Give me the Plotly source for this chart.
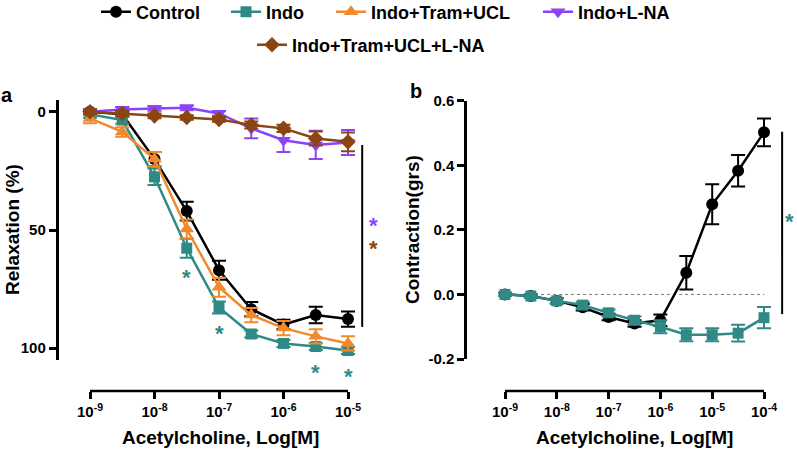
import plotly.graph_objects as go

W, H = 797, 453

# ---- panel a : relaxation (%) vs log[ACh], mean and sem
log_ach_a = [-9, -8.5, -8, -7.5, -7, -6.5, -6, -5.5, -5]
control_a = [0, 1, 20, 42, 67, 83.5, 90, 86, 87.7]
control_a_err = [1, 1, 3, 4, 4, 3, 2, 3.5, 3.2]
indo_a = [1, 3.5, 27.5, 57.7, 82.8, 94, 98, 99.3, 101]
indo_a_err = [1.5, 1.5, 3.5, 4, 2.5, 1.5, 1.5, 1.5, 1.5]
tram_a = [2.8, 8.5, 20, 49.6, 74.2, 86, 91.5, 95, 98]
tram_a_err = [2, 2, 3, 4, 4, 3, 3, 3, 3]
lna_a = [0, -1, -1.4, -1.7, 0.7, 7, 12, 14, 13]
lna_a_err = [1, 1, 1, 1, 1, 4.2, 5, 6, 5.3]
tram_lna_a = [0, 0.7, 1.7, 2.4, 3.2, 5.6, 7, 11.3, 12.7]
tram_lna_a_err = [1, 1, 1, 1, 1, 1.5, 1.5, 3, 4]

# ---- panel b : contraction (grs) vs log[ACh]
log_ach_b = [-9, -8.5, -8, -7.5, -7, -6.5, -6, -5.5, -5, -4.5, -4]
control_b = [0, -0.005, -0.02, -0.04, -0.07, -0.09, -0.08, 0.067, 0.279, 0.383, 0.502]
control_b_err = [0.005, 0.005, 0.008, 0.01, 0.01, 0.01, 0.018, 0.052, 0.062, 0.049, 0.043]
indo_b = [0, -0.005, -0.02, -0.033, -0.057, -0.08, -0.1, -0.125, -0.125, -0.12, -0.072]
indo_b_err = [0.005, 0.005, 0.008, 0.01, 0.01, 0.012, 0.02, 0.02, 0.02, 0.026, 0.033]

# tick labels
xtick_a = [-9, -8, -7, -6, -5]
xtick_b = [-9, -8, -7, -6, -5, -4]
ytick_a = [0, 50, 100]
ytick_b = [-0.2, 0.0, 0.2, 0.4, 0.6]
ytext_b = ["-0.2", "0.0", "0.2", "0.4", "0.6"]

# significance stars (x, y)
stars_indo_a = [(-7.5, 68), (-7, 91.6), (-5.5, 108), (-5, 110)]

BLACK = "#000000"
TEAL = "#2f8a86"
ORANGE = "#f08a2c"
PURPLE = "#8a43f7"
BROWN = "#8b4513"
FONT = "Liberation Sans, Arial, sans-serif"


def px(x):
  return x / W


def py(y):
  return 1 - y / H


def sup(v):
  return "10<sup>{}</sup>".format(v)


fig = go.Figure()

# name, values, sem, colour, symbol, size, legend id, legend position (px)
series_a = [
  ("Control", control_a, control_a_err, BLACK, "circle", 12, "legend", (96, 12)),
  ("Indo", indo_a, indo_a_err, TEAL, "square", 11, "legend2", (226, 12)),
  ("Indo+Tram+UCL", tram_a, tram_a_err, ORANGE, "triangle-up", 13, "legend3", (331, 12)),
  ("Indo+L-NA", lna_a, lna_a_err, PURPLE, "triangle-down", 13, "legend4", (538, 12)),
  ("Indo+Tram+UCL+L-NA", tram_lna_a, tram_lna_a_err, BROWN, "diamond", 12, "legend5", (252, 45)),
]
legend_font = dict(family=FONT, size=18, color=BLACK, weight="bold")
legends = {}
for name, y, err, color, symbol, size, leg, pos in series_a:
  fig.add_trace(go.Scatter(
      x=log_ach_a, y=y, name=name, mode="lines+markers",
      line=dict(color=color, width=2.5),
      marker=dict(color=color, symbol=symbol, size=size),
      error_y=dict(type="data", array=err, color=color, thickness=2, width=7),
      legend=leg, cliponaxis=False, xaxis="x", yaxis="y"))
  legends[leg] = dict(orientation="h", x=px(pos[0]), xanchor="left", y=py(pos[1]),
                      yanchor="middle", font=legend_font, bgcolor="rgba(0,0,0,0)")

series_b = [
  ("Control", control_b, control_b_err, BLACK, "circle", 12),
  ("Indo", indo_b, indo_b_err, TEAL, "square", 11),
]
for name, y, err, color, symbol, size in series_b:
  fig.add_trace(go.Scatter(
      x=log_ach_b, y=y, name=name, mode="lines+markers", showlegend=False,
      line=dict(color=color, width=2.5),
      marker=dict(color=color, symbol=symbol, size=size),
      error_y=dict(type="data", array=err, color=color, thickness=2, width=7),
      cliponaxis=False, xaxis="x2", yaxis="y2"))

# axis geometry (pixels of the 797x453 page)
dec_a = 64.5
dec_b = 51.8
x_axis_y = 391
ya_top, ya_bottom = 100, 360
ya_range = [105, -5]
ya_scale = (ya_bottom - ya_top) / (ya_range[0] - ya_range[1])

tickfont = dict(family=FONT, size=15, color=BLACK, weight="bold")
common_x = dict(showgrid=False, zeroline=False, showline=False, ticks="outside",
                ticklen=7, tickwidth=2.5, tickcolor=BLACK, tickfont=tickfont,
                anchor="free", position=py(x_axis_y), automargin=False)
common_y = dict(showgrid=False, zeroline=False, showline=True, linewidth=2.5,
                linecolor=BLACK, ticks="outside", ticklen=7, tickwidth=2.5,
                tickcolor=BLACK, tickfont=tickfont, automargin=False)

fig.update_layout(
    xaxis=dict(common_x, domain=[px(58.5), px(392)],
               range=[-9 - (90 - 58.5) / dec_a, -5 + (392 - 348) / dec_a],
               tickvals=xtick_a, ticktext=[sup(v) for v in xtick_a]),
    yaxis=dict(common_y, domain=[py(ya_bottom), py(ya_top)], range=ya_range,
               tickvals=ytick_a, anchor="x"),
    xaxis2=dict(common_x, domain=[px(467), 1.0],
                range=[-9 - (505 - 467) / dec_b, -4 + (797 - 764) / dec_b],
                tickvals=xtick_b, ticktext=[sup(v) for v in xtick_b]),
    yaxis2=dict(common_y, domain=[py(359), py(100.7)], range=[-0.2, 0.6],
                tickvals=ytick_b, ticktext=ytext_b, anchor="x2"),
)

shapes = [
  # x axis lines (only over the dose range, Prism style)
  dict(type="line", xref="x", yref="paper", x0=-9, x1=-5, y0=py(x_axis_y), y1=py(x_axis_y),
       line=dict(color=BLACK, width=2.5)),
  dict(type="line", xref="x2", yref="paper", x0=-9, x1=-4, y0=py(x_axis_y), y1=py(x_axis_y),
       line=dict(color=BLACK, width=2.5)),
  # dotted zero line in b
  dict(type="line", xref="x2", yref="y2", x0=-9, x1=-4, y0=0, y1=0, layer="below",
       line=dict(color="#777777", width=1, dash="dot")),
  # significance brackets
  dict(type="line", xref="x", yref="y", x0=-4.78, x1=-4.78, y0=14, y1=91,
       line=dict(color=BLACK, width=2)),
  dict(type="line", xref="x2", yref="y2", x0=-3.65, x1=-3.65, y0=0.504, y1=-0.061,
       line=dict(color=BLACK, width=2)),
]

star = dict(text="*", showarrow=False, xanchor="center", yanchor="middle")
star_font = dict(family=FONT, size=22, weight="bold")
annotations = []
for sx, sy in stars_indo_a:
  # plotly hides annotations outside the axis range: pin those to the edge and shift
  y_in = min(sy, ya_range[0] - 1)
  shift = -5 - (sy - y_in) * ya_scale
  annotations.append(dict(star, x=sx, y=y_in, yshift=shift, xref="x", yref="y",
                          font=dict(star_font, color=TEAL)))
annotations.append(dict(star, x=-4.6, y=46, yshift=-5, xref="x", yref="y", font=dict(star_font, color=PURPLE)))
annotations.append(dict(star, x=-4.6, y=55.6, yshift=-5, xref="x", yref="y", font=dict(star_font, color=BROWN)))
annotations.append(dict(star, x=-3.5, y=0.24, yshift=-5, xref="x2", yref="y2", font=dict(star_font, color=TEAL)))

title_font = dict(family=FONT, size=19, color=BLACK, weight="bold")
label = dict(xref="paper", yref="paper", showarrow=False, xanchor="center", yanchor="middle")
annotations += [
  dict(label, text="Relaxation (%)", x=px(12), y=py(230), textangle=-90, font=title_font),
  dict(label, text="Contraction(grs)", x=px(412), y=py(230), textangle=-90, font=title_font),
  dict(label, text="Acetylcholine, Log[M]", x=px(220), y=py(437), font=title_font),
  dict(label, text="Acetylcholine, Log[M]", x=px(634), y=py(437), font=title_font),
  dict(label, text="a", x=px(7), y=py(95), font=dict(title_font, size=20)),
  dict(label, text="b", x=px(416), y=py(91), font=dict(title_font, size=20)),
]

fig.update_layout(
    width=W, height=H,
    margin=dict(l=0, r=0, t=0, b=0, autoexpand=False),
    paper_bgcolor="white", plot_bgcolor="rgba(0,0,0,0)",
    font=dict(family=FONT, color=BLACK, weight="bold"),
    shapes=shapes, annotations=annotations,
    **legends,
)

# the page body has a default 8px margin; drop it so the figure fills the window
fig.write_html("out.html", config={"displayModeBar": False},
               post_script="document.body.style.margin='0px';")
